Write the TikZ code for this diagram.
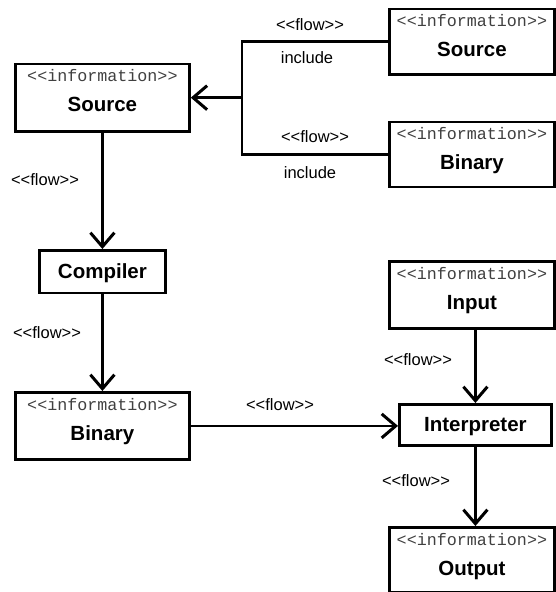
\documentclass[tikz,border=0pt]{standalone}
\usepackage{fontspec}
\setmainfont{Liberation Sans}
\setmonofont{Liberation Mono}
\usetikzlibrary{arrows.meta}

\tikzset{
  box/.style={draw, line width=2.8pt, inner sep=0pt, anchor=north west},
  stereo/.style={anchor=base, inner sep=0pt, font=\ttfamily\fontsize{16.7}{18}\selectfont, text=black!75},
  title/.style={anchor=base, inner sep=0pt, font=\bfseries\fontsize{20.5}{22}\selectfont},
  flowlbl/.style={inner sep=0pt, font=\fontsize{16.5}{18}\selectfont},
  wire/.style={line width=2.8pt},
  flowarrow/.style={wire, -{Straight Barb[length=14pt, width=24pt, line width=3pt]}}
}

% an information element: framed box with stereotype and name
\newcommand{\infoelem}[5]{%
  \node[box, minimum width=#4pt, minimum height=#5pt] (#1) at (#2) {};
  \node[stereo] (#1-st) at ([yshift=-19pt]#1.north) {<{}<information>{}>};
  \node[title]  (#1-nm) at ([yshift=-49pt]#1.north) {#3};
}

\begin{document}
\begin{tikzpicture}[x=1pt, y=-1pt]
  \useasboundingbox (0,0) rectangle (555,592);

  % information elements
  \infoelem{srcR}{388,7.5}{Source}{165}{65.5}
  \infoelem{binR}{388,120.5}{Binary}{165}{65}
  \infoelem{srcL}{14,62.5}{Source}{174}{67.5}
  \infoelem{binL}{14,391}{Binary}{174}{67}
  \infoelem{inp}{388,260}{Input}{165}{67}
  \infoelem{outp}{388,526}{Output}{165}{65}

  % processing elements
  \node[box, minimum width=126pt, minimum height=42.5pt] (comp) at (38,249) {};
  \node[title] (comp-nm) at ([yshift=-29pt]comp.north) {Compiler};
  \node[box, minimum width=152pt, minimum height=41pt] (interp) at (398,403) {};
  \node[title] (interp-nm) at ([yshift=-28pt]interp.north) {Interpreter};

  % merge point of the two include flows
  \coordinate (j) at (242,0);

  \draw[wire] (srcR.west) -| (j |- srcL.east);
  \draw[wire] (binR.west) -| (j |- srcL.east);
  \draw[flowarrow] (j |- srcL.east) -- (srcL.east);

  \draw[flowarrow] (srcL.south) -- (comp.north);
  \draw[flowarrow] (comp.south) -- (binL.north);
  \draw[flowarrow] (binL.east) -- (interp.west |- binL.east);
  \draw[flowarrow] (interp.north |- inp.south) -- (interp.north);
  \draw[flowarrow] (interp.south) -- (interp.south |- outp.north);

  % flow labels
  \node[flowlbl] (f1) at (310,25)  {<{}<flow>{}>};
  \node[flowlbl] (i1) at (307,58)  {include};
  \node[flowlbl] (f2) at (315,137) {<{}<flow>{}>};
  \node[flowlbl] (i2) at (310,173) {include};
  \node[flowlbl] (f3) at (45,180)  {<{}<flow>{}>};
  \node[flowlbl] (f4) at (47,333)  {<{}<flow>{}>};
  \node[flowlbl] (f5) at (280,405) {<{}<flow>{}>};
  \node[flowlbl] (f6) at (418,360) {<{}<flow>{}>};
  \node[flowlbl] (f7) at (416,481) {<{}<flow>{}>};
\end{tikzpicture}
\end{document}
